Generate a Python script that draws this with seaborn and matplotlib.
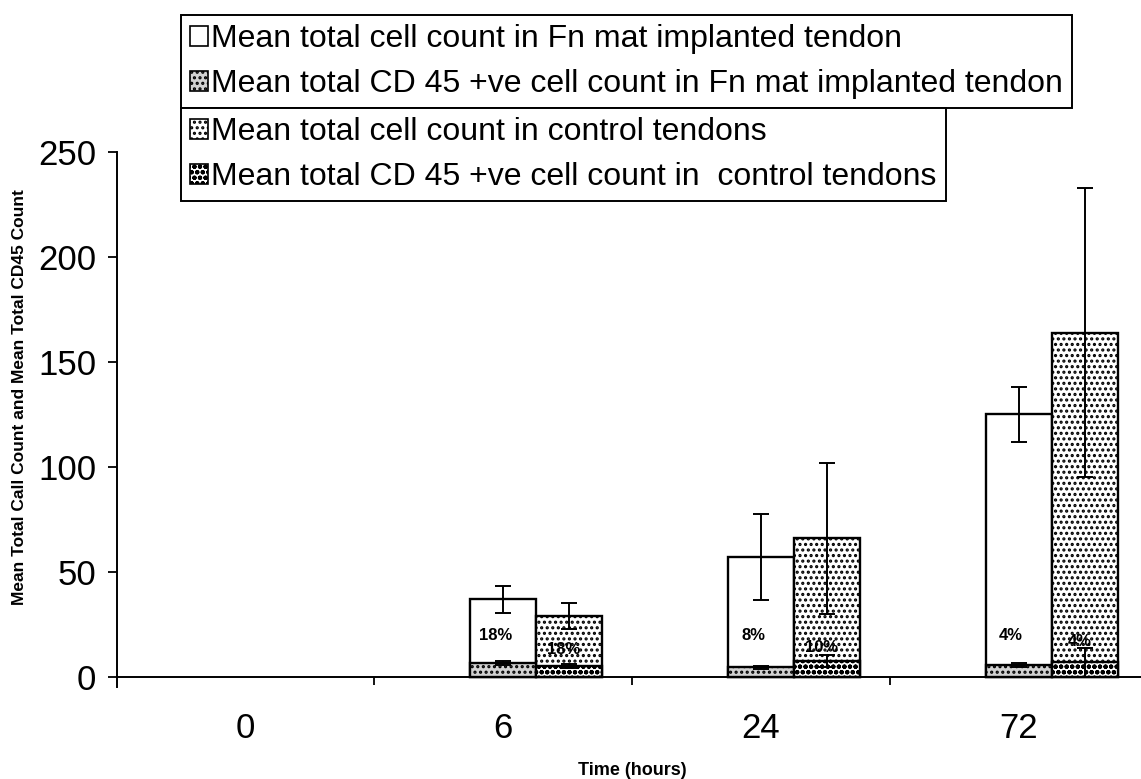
import numpy as np
import pandas as pd
import seaborn as sns
import matplotlib
matplotlib.use("Agg")
import matplotlib.pyplot as plt
from matplotlib.patches import Patch
from matplotlib import font_manager

# ---------------- data ----------------
times = ["0", "6", "24", "72"]
groups = ["Fn mat implanted", "Control"]
total_fn = [0, 37, 57, 125]
total_ctrl = [0, 29, 66, 164]
err_fn = [0, 6.5, 20.5, 13]
err_ctrl = [0, 6, 36, 69]
cd45_fn = [0, 6.5, 4.6, 5.5]
cd45_ctrl = [0, 5.2, 7.5, 7]
cd45_err_fn = [0, 1, 0.8, 1]
cd45_err_ctrl = [0, 1, 3, 7]
pct_fn = ["", "18%", "8%", "4%"]
pct_ctrl = ["", "18%", "10%", "4%"]
y_ticks = [0, 50, 100, 150, 200, 250]
legend_top = ["Mean total cell count in Fn mat implanted tendon",
              "Mean total CD 45 +ve cell count in Fn mat implanted tendon"]
legend_bottom = ["Mean total cell count in control tendons",
                 "Mean total CD 45 +ve cell count in  control tendons"]

# ---------------- style ----------------
sns.set_theme(style="white")
plt.rcParams['font.family'] = ['Liberation Sans', 'DejaVu Sans']
plt.rcParams['hatch.linewidth'] = 1.5
plt.rcParams['text.color'] = 'black'


def has_font(name):
    try:
        font_manager.findfont(font_manager.FontProperties(family=name),
                              fallback_to_default=False)
        return True
    except Exception:
        return False


narrow = 'Liberation Sans Narrow' if has_font('Liberation Sans Narrow') else 'Liberation Sans'
leg_size = 27 if narrow == 'Liberation Sans Narrow' else 23

df_total = pd.DataFrame({
    "time": times * 2,
    "group": [groups[0]] * len(times) + [groups[1]] * len(times),
    "count": total_fn + total_ctrl,
})
df_cd45 = pd.DataFrame({
    "time": times * 2,
    "group": [groups[0]] * len(times) + [groups[1]] * len(times),
    "count": cd45_fn + cd45_ctrl,
})

W, H = 1141, 779
fig = plt.figure(figsize=(W / 100, H / 100), dpi=100)
ax = fig.add_axes([117 / W, 1 - 687 / H, (W - 117) / W, (687 - 152) / H])

fn_cd_color = "#d2d2d2"
group_width = 0.512
sns.barplot(data=df_total, x="time", y="count", hue="group", order=times,
            hue_order=groups, palette=["white", "white"], edgecolor="black",
            linewidth=1.7, width=group_width, errorbar=None, legend=False,
            saturation=1, ax=ax)
sns.barplot(data=df_cd45, x="time", y="count", hue="group", order=times,
            hue_order=groups, palette=[fn_cd_color, "white"], edgecolor="black",
            linewidth=1.7, width=group_width, errorbar=None, legend=False,
            saturation=1, ax=ax)

c_fn, c_ctrl, c_cd_fn, c_cd_ctrl = ax.containers[:4]
for p in c_ctrl:
    p.set_hatch('...')
for p in c_cd_fn:
    p.set_hatch('...')
for p in c_cd_ctrl:
    p.set_hatch('ooo')
for cont in (c_fn, c_ctrl, c_cd_fn, c_cd_ctrl):
    for p in cont:
        if p.get_height() == 0:
            p.set_visible(False)


def centers(cont):
    return [p.get_x() + p.get_width() / 2 for p in cont]


for cont, vals, errs in [(c_fn, total_fn, err_fn), (c_ctrl, total_ctrl, err_ctrl),
                         (c_cd_fn, cd45_fn, cd45_err_fn), (c_cd_ctrl, cd45_ctrl, cd45_err_ctrl)]:
    xs = [x for x, v in zip(centers(cont), vals) if v > 0]
    ys = [v for v in vals if v > 0]
    es = [e for e, v in zip(errs, vals) if v > 0]
    ax.errorbar(xs, ys, yerr=es, fmt='none', ecolor='black', elinewidth=1.4,
                capsize=6, capthick=1.4, zorder=5)

# percentage labels
for x, t in zip(centers(c_fn), pct_fn):
    if t:
        ax.text(x - 0.03, 19.5, t, ha='center', va='center', fontsize=12,
                fontweight='bold', color='black', zorder=6)
ctrl_label_y = [0, 13, 14, 17]
for x, t, yy in zip(centers(c_ctrl), pct_ctrl, ctrl_label_y):
    if t:
        ax.text(x - 0.02, yy, t, ha='center', va='center', fontsize=12,
                fontweight='bold', color='black', zorder=6)

# axes
for s in ['top', 'right']:
    ax.spines[s].set_visible(False)
ax.spines['bottom'].set_position(('data', 0))
for s in ['left', 'bottom']:
    ax.spines[s].set_color('black')
    ax.spines[s].set_linewidth(1.4)
ax.grid(False)

bw = c_fn[0].get_width()
label_pos = [i - bw / 2 for i in range(len(times))]
ax.set_xlim(label_pos[0] - 0.496, label_pos[0] + 3.473)
ax.set_ylim(-4.8, 250)
ax.set_yticks(y_ticks)
ax.set_yticklabels([str(v) for v in y_ticks])
ax.set_xticks(label_pos)
ax.set_xticklabels(times)
ax.set_xticks([p + 0.5 for p in label_pos[:-1]], minor=True)
ax.tick_params(axis='x', which='major', length=0, pad=25.5, labelsize=25,
               labelcolor='black')
ax.tick_params(axis='x', which='minor', length=6, width=1.3, direction='out',
               color='black', bottom=True)
ax.tick_params(axis='y', which='major', length=6.5, width=1.3, direction='out',
               pad=8.5, color='black', left=True, labelsize=25, labelcolor='black')

ax.set_ylabel("Mean Total Call Count and Mean Total CD45 Count", fontsize=12.5,
              fontweight='bold', color='black')
ax.yaxis.set_label_coords((27 - 117) / (W - 117), (687 - 397) / (687 - 152))
ax.set_xlabel("Time (hours)", fontsize=13, fontweight='bold', color='black')
ax.xaxis.set_label_coords((632 - 117) / (W - 117), (687 - 762) / (687 - 152))

# legends
h_top = [Patch(facecolor='white', edgecolor='black', linewidth=1.2),
         Patch(facecolor=fn_cd_color, edgecolor='black', hatch='...', linewidth=1.2)]
h_bot = [Patch(facecolor='white', edgecolor='black', hatch='...', linewidth=1.2),
         Patch(facecolor='white', edgecolor='black', hatch='ooo', linewidth=1.2)]
leg_kw = dict(loc='upper left', frameon=True, fancybox=False, framealpha=1,
              edgecolor='black', borderpad=0.28, handlelength=0.55,
              handleheight=0.6, handletextpad=0.12, labelspacing=0.47,
              borderaxespad=0, prop={'family': narrow, 'size': leg_size})
leg1 = fig.legend(h_top, legend_top, bbox_to_anchor=(181 / W, 1 - 15 / H), **leg_kw)
leg2 = fig.legend(h_bot, legend_bottom, bbox_to_anchor=(181 / W, 1 - 108 / H), **leg_kw)
for lg in (leg1, leg2):
    lg.get_frame().set_linewidth(1.4)
    for t in lg.get_texts():
        t.set_color('black')

fig.savefig("out.png", dpi=100)
